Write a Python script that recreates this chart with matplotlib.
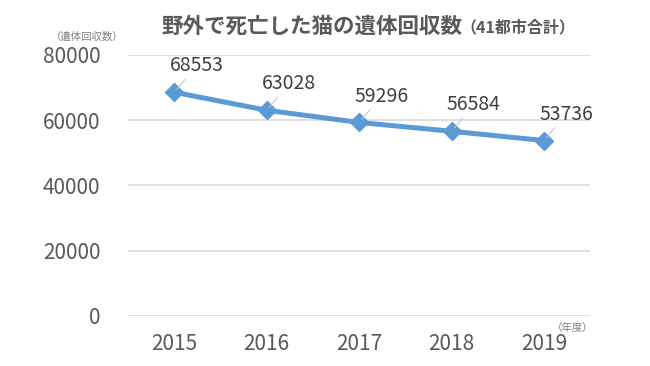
import matplotlib
matplotlib.use("Agg")
import matplotlib.pyplot as plt

plt.rcParams['font.family'] = ['Noto Sans CJK JP', 'DejaVu Sans']

# data
years = ['2015', '2016', '2017', '2018', '2019']
counts = [68553, 63028, 59296, 56584, 53736]
yticks = [0, 20000, 40000, 60000, 80000]

title = '野外で死亡した猫の遺体回収数'
subtitle = '（41都市合計）'
ylabel = '（遺体回収数）'
xlabel = '（年度）'

line_color = '#5B9BD5'
text_color = '#595959'

fig = plt.figure(figsize=(6.5, 3.66), dpi=100)
ax = fig.add_axes([0.197, 0.137, 0.711, 0.713])

x = range(len(years))
ax.plot(x, counts, color=line_color, lw=3.6, marker='D', ms=9.5,
        markeredgecolor=line_color, zorder=3)

# data labels with thin leader lines
for xi, v in zip(x, counts):
    ax.annotate(str(v), xy=(xi, v), xytext=(16, 19), textcoords='offset points',
                ha='center', va='center', fontsize=14, color='#404040',
                arrowprops=dict(arrowstyle='-', color='#c8c8c8', lw=0.8,
                                shrinkA=0, shrinkB=3))

ax.set_xlim(-0.5, 4.5)
ax.set_ylim(0, 80000)
ax.set_yticks(yticks)
ax.set_yticklabels([str(t) for t in yticks])
ax.set_xticks(list(x))
ax.set_xticklabels(years)
ax.tick_params(length=0, labelsize=15, labelcolor=text_color)
ax.tick_params(axis='y', pad=20)
ax.tick_params(axis='x', pad=12)
ax.grid(axis='y', color='#d9d9d9', lw=1.2)
ax.set_axisbelow(True)
for s in ax.spines.values():
    s.set_visible(False)

fig.text(0.249, 0.927, title, fontsize=15.5, fontweight='bold', color=text_color,
         va='center', ha='left')
fig.text(0.708, 0.925, subtitle, fontsize=11.5, fontweight='bold', color=text_color,
         va='center', ha='left')
fig.text(0.134, 0.9, ylabel, fontsize=7.5, color='#7f7f7f', va='center', ha='center')
fig.text(0.881, 0.104, xlabel, fontsize=7.5, color='#7f7f7f', va='center', ha='center')

fig.savefig('out.png', dpi=100)
